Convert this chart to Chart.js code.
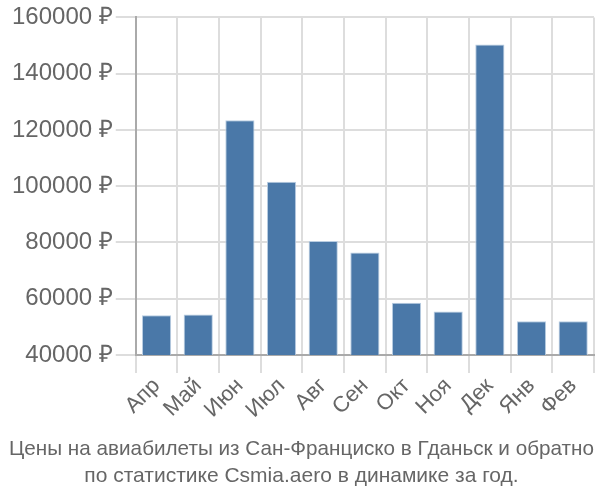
<!DOCTYPE html>
<html>
<head>
<meta charset="utf-8">
<script src="https://cdn.jsdelivr.net/npm/chart.js@4/dist/chart.umd.min.js"></script>
<style>
  body { margin: 0; background: #fff; }
  #wrap { width: 600px; height: 500px; }
</style>
</head>
<body>
<div id="wrap"><canvas id="chart"></canvas></div>
<script>
const months = ['Апр', 'Май', 'Июн', 'Июл', 'Авг', 'Сен', 'Окт', 'Ноя', 'Дек', 'Янв', 'Фев'];
const prices = [54100, 54400, 123400, 101600, 80500, 76400, 58600, 55500, 150400, 52000, 52000];
const titleLines = [
  'Цены на авиабилеты из Сан-Франциско в Гданьск и обратно',
  'по статистике Csmia.aero в динамике за год.'
];

const ctx = document.getElementById('chart').getContext('2d');
new Chart(ctx, {
  type: 'bar',
  data: {
    labels: months,
    datasets: [{
      data: prices,
      backgroundColor: '#4a78a8',
      borderColor: '#b9cde2',
      borderWidth: 1,
      barPercentage: 0.7,
      categoryPercentage: 1
    }]
  },
  options: {
    responsive: true,
    maintainAspectRatio: false,
    animation: false,
    layout: { padding: { top: 0, right: 6, left: 9, bottom: 10 } },
    plugins: {
      legend: { display: false },
      tooltip: { enabled: false },
      title: {
        display: true,
        position: 'bottom',
        text: titleLines,
        color: '#666',
        font: { family: 'Liberation Sans', size: 21, weight: 'normal', lineHeight: 1.28 },
        padding: { top: 13, bottom: 0 }
      }
    },
    scales: {
      x: {
        grid: { color: '#ddd', lineWidth: 2, tickLength: 18, offset: true },
        border: { color: '#aaa', width: 2 },
        ticks: {
          color: '#666',
          font: { family: 'Liberation Sans', size: 22 },
          autoSkip: false,
          maxRotation: 45,
          minRotation: 45,
          padding: 0
        }
      },
      y: {
        min: 40000,
        max: 160000,
        grid: { color: '#ddd', lineWidth: 2, tickLength: 20 },
        border: { color: '#aaa', width: 2 },
        ticks: {
          stepSize: 20000,
          color: '#666',
          font: { family: 'Liberation Sans', size: 24 },
          padding: 3,
          callback: v => v + ' ₽'
        }
      }
    }
  }
});
</script>
</body>
</html>
